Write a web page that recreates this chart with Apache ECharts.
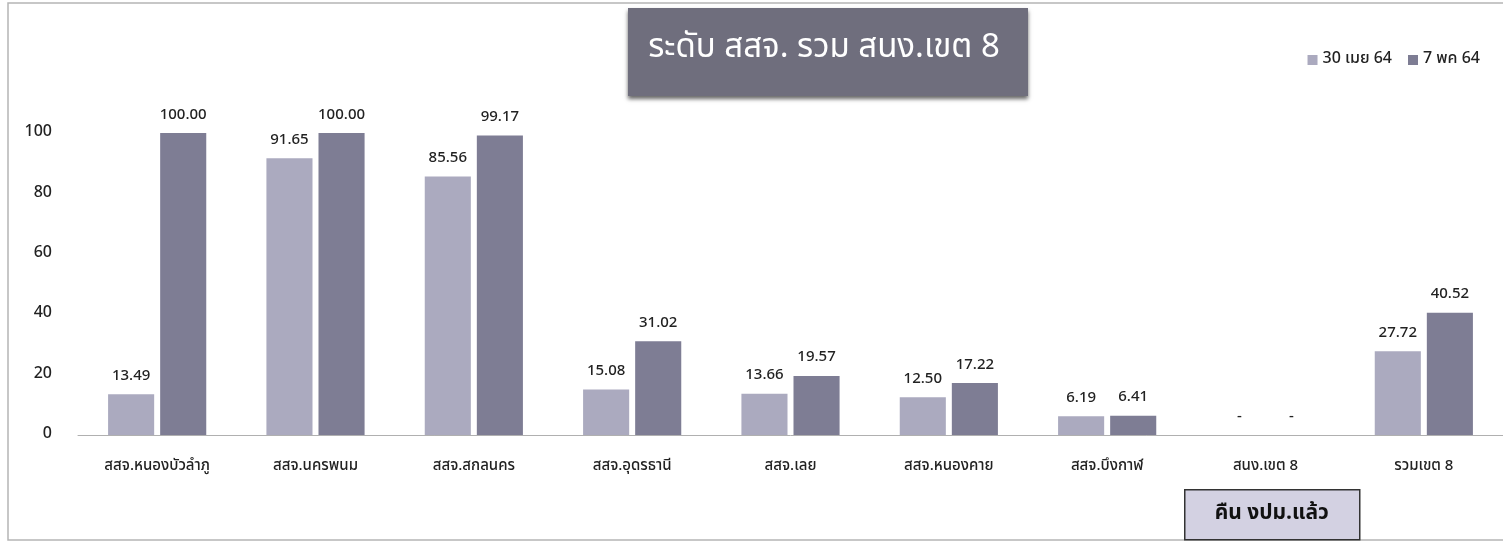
<!DOCTYPE html>
<html>
<head>
<meta charset="utf-8">
<script src="https://cdn.jsdelivr.net/npm/echarts@6/dist/echarts.min.js"></script>
<style>
  html, body { margin: 0; padding: 0; background: #fff; }
  #main { width: 1503px; height: 551px; }
</style>
</head>
<body>
<div id="main"></div>
<script>
// หมวดหมู่ และค่าของแต่ละชุด
var categories = ['สสจ.หนองบัวลำภู', 'สสจ.นครพนม', 'สสจ.สกลนคร', 'สสจ.อุดรธานี', 'สสจ.เลย', 'สสจ.หนองคาย', 'สสจ.บึงกาฬ', 'สนง.เขต 8', 'รวมเขต 8'];
var seriesNames = ['30 เมย 64', '7 พค 64'];
var apr30 = [13.49, 91.65, 85.56, 15.08, 13.66, 12.50, 6.19, 0, 27.72];
var may7 = [100.00, 100.00, 99.17, 31.02, 19.57, 17.22, 6.41, 0, 40.52];
var yTicks = [0, 20, 40, 60, 80, 100];

var FONT = "'Noto Sans Thai', 'Noto Sans', sans-serif";

var chart = echarts.init(document.getElementById('main'));

// ค่า 0 แสดงเป็นขีด
function labelFmt(p) {
  return p.value === 0 ? '-' : p.value.toFixed(2);
}

var option = {
  backgroundColor: '#ffffff',
  textStyle: { fontFamily: FONT },
  legend: {
    data: seriesNames,
    right: 18,
    top: 47,
    itemWidth: 10,
    itemHeight: 10,
    itemGap: 16,
    icon: 'rect',
    textStyle: { fontSize: 16, color: '#222', fontWeight: 500, fontFamily: FONT }
  },
  grid: { left: 78, right: -7, top: 133, bottom: 116 },
  xAxis: {
    type: 'category',
    data: categories,
    axisLine: { lineStyle: { color: '#b0b0b0', width: 1 } },
    axisTick: { show: false },
    axisLabel: { fontSize: 15, color: '#222', fontWeight: 500, margin: 24, fontFamily: FONT }
  },
  yAxis: {
    type: 'value',
    min: yTicks[0],
    max: yTicks[yTicks.length - 1],
    interval: 20,
    splitLine: { show: false },
    axisLine: { show: false },
    axisTick: { show: false },
    axisLabel: { fontSize: 16, color: '#222', fontWeight: 500, margin: 26, fontFamily: FONT }
  },
  series: [
    {
      name: seriesNames[0],
      type: 'bar',
      data: apr30,
      barGap: '13%',
      barCategoryGap: '38%',
      itemStyle: { color: '#abaabf' },
      label: { show: true, position: 'top', distance: 10, fontSize: 15, fontWeight: 500, color: '#222', formatter: labelFmt }
    },
    {
      name: seriesNames[1],
      type: 'bar',
      data: may7,
      itemStyle: { color: '#7e7d94' },
      label: { show: true, position: 'top', distance: 10, fontSize: 15, fontWeight: 500, color: '#222', formatter: labelFmt }
    }
  ],
  graphic: [
    // กรอบรอบภาพ
    {
      type: 'rect', z: -10,
      shape: { x: 8, y: 3, width: 1500, height: 537 },
      style: { fill: 'none', stroke: '#b5b5b5', lineWidth: 1.5 }
    },
    // กล่องหัวเรื่อง
    {
      type: 'group', left: 628, top: 8,
      children: [
        {
          type: 'rect',
          shape: { x: 0, y: 0, width: 400, height: 88 },
          style: { fill: '#6f6e7d', shadowBlur: 4, shadowOffsetY: 3, shadowColor: 'rgba(0,0,0,0.6)' }
        },
        {
          type: 'text', x: 196, y: 42,
          style: { text: 'ระดับ สสจ. รวม สนง.เขต 8', fill: '#ffffff', fontSize: 33, fontFamily: FONT, align: 'center', verticalAlign: 'middle' }
        }
      ]
    },
    // กล่องมุมล่างขวา
    {
      type: 'group', left: 1184, top: 489,
      children: [
        {
          type: 'rect',
          shape: { x: 0, y: 0, width: 175, height: 50 },
          style: { fill: '#d3d1e2', stroke: '#333', lineWidth: 1.5 }
        },
        {
          type: 'text', x: 87, y: 25,
          style: { text: 'คืน งปม.แล้ว', fill: '#111', fontSize: 21, fontWeight: 'bold', fontFamily: FONT, align: 'center', verticalAlign: 'middle' }
        }
      ]
    }
  ]
};

chart.setOption(option);
</script>
</body>
</html>
